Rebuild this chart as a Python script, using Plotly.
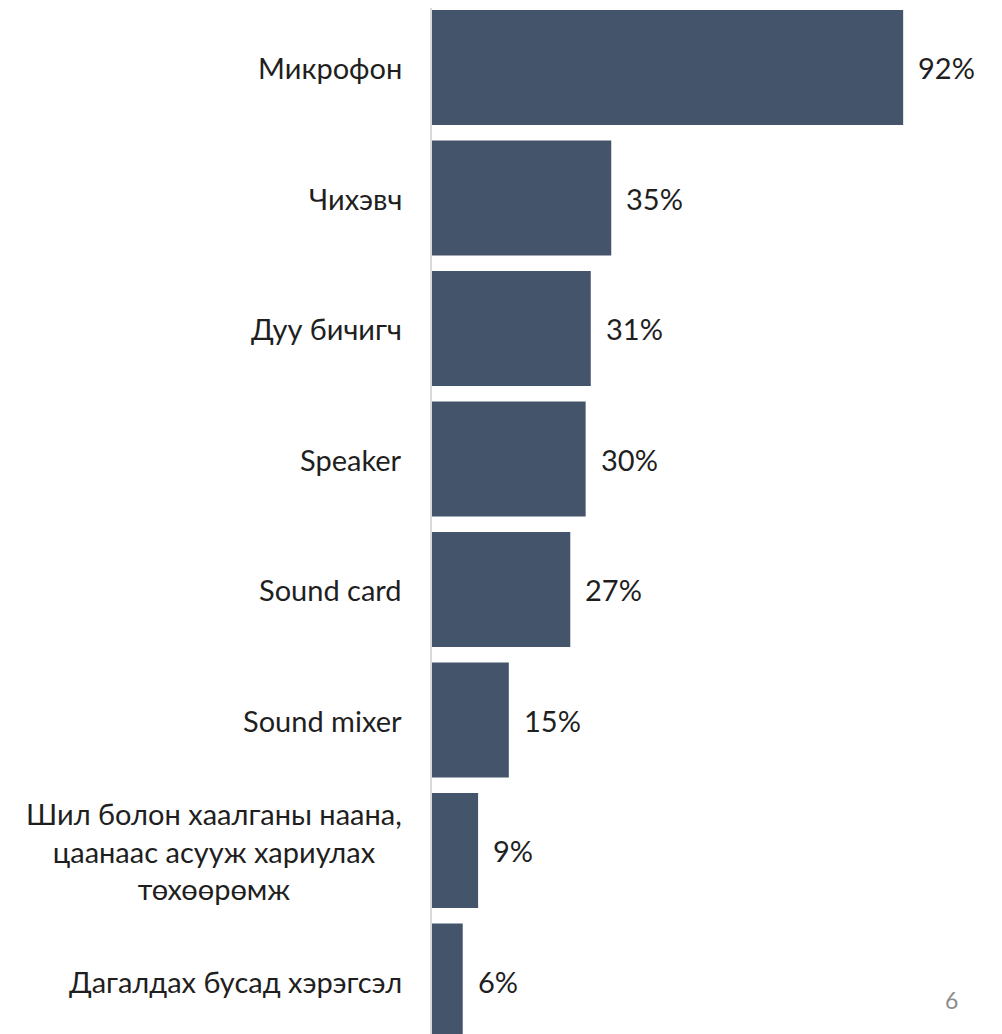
import plotly.graph_objects as go

categories = ["Микрофон", "Чихэвч", "Дуу бичигч", "Speaker", "Sound card", "Sound mixer",
              "Шил болон хаалганы наана,<br>цаанаас асууж хариулах<br>төхөөрөмж",
              "Дагалдах бусад хэрэгсэл"]
values = [92, 35, 31, 30, 27, 15, 9, 6]
value_labels = ["92%", "35%", "31%", "30%", "27%", "15%", "9%", "6%"]

FONT = "Lato"
FS = 29
TXT = "#1f1f1f"
BAR = "#44546A"

idx = list(range(len(categories)))

fig = go.Figure()
fig.add_trace(go.Bar(
    x=values, y=idx, orientation="h",
    marker=dict(color=BAR, line=dict(width=0)),
    hoverinfo="skip",
))

ann = []
for i, (c, lab, v) in enumerate(zip(categories, value_labels, values)):
    ann.append(dict(x=0, y=i, xref="x", yref="y", text=c, showarrow=False,
                    xanchor="right", yanchor="middle", align="center", xshift=-28,
                    font=dict(family=FONT, size=FS, color=TXT)))
    ann.append(dict(x=v, y=i, xref="x", yref="y", text=lab, showarrow=False,
                    xanchor="left", yanchor="middle", xshift=13,
                    font=dict(family=FONT, size=FS, color=TXT)))
ann.append(dict(x=0.912, y=0.033, xref="paper", yref="paper", text="6", showarrow=False,
                xanchor="center", yanchor="middle",
                font=dict(family=FONT, size=23, color="#8c8c8c")))

fig.update_layout(
    width=994, height=1026,
    margin=dict(l=424, r=0, t=0, b=0),
    paper_bgcolor="white", plot_bgcolor="white",
    bargap=0.12,
    showlegend=False,
    annotations=ann,
    xaxis=dict(range=[0, 111.3], showgrid=False, zeroline=False, showticklabels=False,
               showline=False, fixedrange=True),
    yaxis=dict(range=[7.406, -0.456], showgrid=False, zeroline=False, showticklabels=False,
               showline=True, linecolor="#D9D9D9", linewidth=2, ticks="", fixedrange=True),
)

fig.write_html("out.html", config={"displayModeBar": False})
